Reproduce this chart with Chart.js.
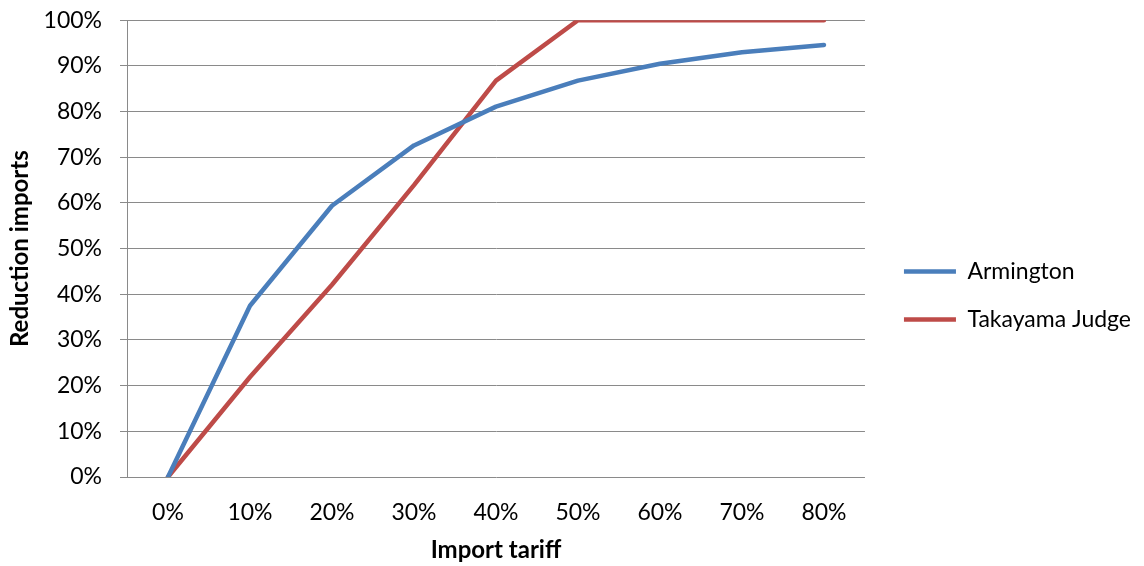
<!DOCTYPE html>
<html>
<head>
<meta charset="utf-8">
<script src="https://cdn.jsdelivr.net/npm/chart.js@4/dist/chart.umd.min.js"></script>
<style>
  html, body { margin: 0; padding: 0; background: #ffffff; }
  #wrap { width: 1144px; height: 566px; position: relative; }
</style>
</head>
<body>
<div id="wrap"><canvas id="c"></canvas></div>
<script>
const categories = ['0%', '10%', '20%', '30%', '40%', '50%', '60%', '70%', '80%'];
const armington = [0, 0.375, 0.594, 0.726, 0.811, 0.868, 0.905, 0.930, 0.946];
const takayamaJudge = [0, 0.219, 0.421, 0.639, 0.868, 1.0, 1.0, 1.0, 1.0];
const seriesNames = ['Armington', 'Takayama Judge'];
const xTitle = 'Import tariff';
const yTitle = 'Reduction imports';

const FONT = 'Lato, "Open Sans", "Liberation Sans", sans-serif';
const GRID = '#8a8a8a';

new Chart(document.getElementById('c'), {
  type: 'line',
  data: {
    labels: categories,
    datasets: [
      {
        label: seriesNames[0],
        data: armington,
        borderColor: '#4a7ebb',
        backgroundColor: '#4a7ebb',
        borderWidth: 4.5,
        borderCapStyle: 'round',
        borderJoinStyle: 'round',
        pointRadius: 0,
        tension: 0
      },
      {
        label: seriesNames[1],
        data: takayamaJudge,
        borderColor: '#be4b48',
        backgroundColor: '#be4b48',
        borderWidth: 4.5,
        borderCapStyle: 'round',
        borderJoinStyle: 'round',
        pointRadius: 0,
        tension: 0
      }
    ]
  },
  options: {
    responsive: true,
    maintainAspectRatio: false,
    animation: false,
    layout: { padding: { top: 0, right: 3, bottom: 0, left: 0 } },
    plugins: {
      tooltip: { enabled: false },
      legend: {
        position: 'right',
        align: 'center',
        maxWidth: 400,
        title: { display: true, text: ' ', padding: 0, font: { size: 21 } },
        labels: {
          usePointStyle: true,
          pointStyle: 'line',
          pointStyleWidth: 52,
          boxHeight: 23,
          padding: 25,
          color: '#000000',
          font: { family: FONT, size: 23 }
        }
      }
    },
    scales: {
      x: {
        type: 'category',
        offset: true,
        grid: { display: false, drawTicks: false, offset: true },
        border: { display: false },
        ticks: {
          color: '#000000',
          font: { family: FONT, size: 23 },
          padding: 22,
          maxRotation: 0
        },
        title: {
          display: true,
          text: xTitle,
          color: '#000000',
          font: { family: FONT, size: 24, weight: 'bold' },
          padding: { top: 0, bottom: 1 }
        },
        afterFit: (s) => { s.height = 89; }
      },
      y: {
        min: 0,
        max: 1,
        ticks: {
          stepSize: 0.1,
          color: '#000000',
          font: { family: FONT, size: 23, lineHeight: 0.2 },
          padding: 18,
          callback: (v) => Math.round(v * 100) + '%'
        },
        grid: { color: GRID, lineWidth: 1, tickLength: 7, drawTicks: true },
        border: { display: true, color: GRID, width: 1 },
        title: {
          display: true,
          text: yTitle,
          color: '#000000',
          font: { family: FONT, size: 24, weight: 'bold' },
          padding: { top: 6, bottom: 0 }
        },
        afterFit: (s) => { s.width = 127; }
      },
      spacer: {
        type: 'linear',
        position: 'right',
        display: true,
        grid: { display: false, drawTicks: false },
        border: { display: false },
        ticks: { display: false },
        afterFit: (s) => { s.width = 14; }
      }
    }
  }
});
</script>
</body>
</html>
